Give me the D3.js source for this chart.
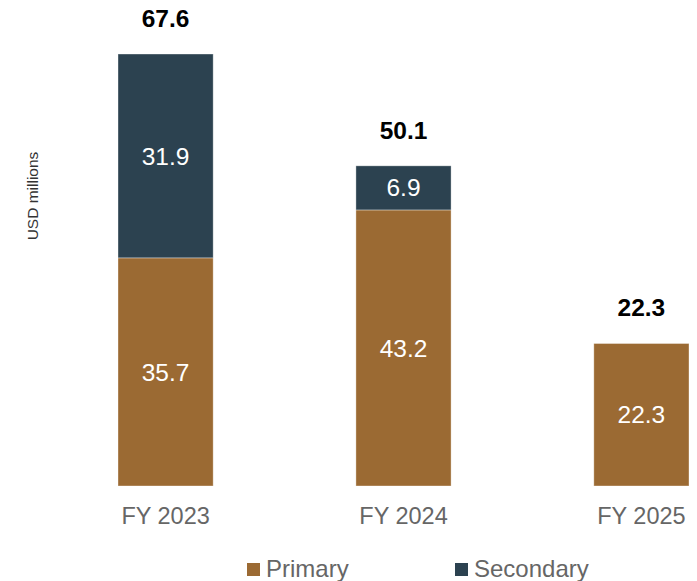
<!DOCTYPE html>
<html>
<head>
<meta charset="utf-8">
<script src="https://cdn.jsdelivr.net/npm/d3@7"></script>
<style>
  body { margin: 0; background: #fff; }
  svg text { font-family: "Liberation Sans", Arial, sans-serif; }
</style>
</head>
<body>
<svg id="chart"></svg>
<script>
const years = ['FY 2023', 'FY 2024', 'FY 2025'];
const primary = [35.7, 43.2, 22.3];
const secondary = [31.9, 6.9, 0];
const totals = [67.6, 50.1, 22.3];
const seriesNames = ['Primary', 'Secondary'];
const seriesColors = ['#9b6a33', '#2c4250'];

const WIDTH = 697;
const HEIGHT = 581;
const BASE = 486;

const svg = d3.select('#chart').attr('width', WIDTH).attr('height', HEIGHT);

const x = d3.scaleBand().domain(years).range([118, 689]).paddingInner(0.6).paddingOuter(0);
const y = d3.scaleLinear().domain([0, 67.6]).range([BASE, 54]);

const rows = years.map((yr, i) => ({ year: yr, Primary: primary[i], Secondary: secondary[i] }));
const stacked = d3.stack().keys(seriesNames)(rows);
const color = d3.scaleOrdinal(seriesNames, seriesColors);

const layers = svg.append('g')
  .selectAll('g')
  .data(stacked)
  .join('g')
  .attr('fill', (d) => color(d.key));

layers.selectAll('rect')
  .data((d) => d.filter((s) => s[1] - s[0] > 0))
  .join('rect')
  .attr('x', (d) => x(d.data.year))
  .attr('width', x.bandwidth())
  .attr('y', (d) => y(d[1]))
  .attr('height', (d) => y(d[0]) - y(d[1]))
  .attr('stroke', 'rgba(255,255,255,0.45)')
  .attr('stroke-width', 0.8);

// values inside segments
layers.selectAll('text')
  .data((d) => d.filter((s) => s[1] - s[0] > 0))
  .join('text')
  .attr('x', (d) => x(d.data.year) + x.bandwidth() / 2)
  .attr('y', (d) => (y(d[0]) + y(d[1])) / 2)
  .attr('dy', '0.35em')
  .attr('text-anchor', 'middle')
  .attr('fill', '#fff')
  .attr('font-size', 24.5)
  .text((d) => (d[1] - d[0]).toFixed(1));

// totals on top
svg.append('g')
  .selectAll('text')
  .data(years)
  .join('text')
  .attr('x', (d) => x(d) + x.bandwidth() / 2)
  .attr('y', (d, i) => y(totals[i]) - 27)
  .attr('text-anchor', 'middle')
  .attr('font-size', 24.5)
  .attr('font-weight', 'bold')
  .attr('fill', '#000')
  .text((d, i) => totals[i].toFixed(1));

// category axis
const xAxis = svg.append('g')
  .attr('transform', `translate(0, ${BASE})`)
  .call(d3.axisBottom(x).tickSize(0));
xAxis.select('.domain').remove();
xAxis.selectAll('text')
  .attr('y', 30)
  .attr('dy', '0.35em')
  .attr('font-size', 23.5)
  .attr('fill', '#666')
  .style('font-family', '"Liberation Sans", Arial, sans-serif');

// y title
svg.append('text')
  .attr('transform', 'translate(38, 196) rotate(-90)')
  .attr('text-anchor', 'middle')
  .attr('font-size', 15.5)
  .attr('fill', '#333')
  .text('USD millions');

// legend
const legendX = [247, 455];
const legend = svg.append('g')
  .selectAll('g')
  .data(seriesNames)
  .join('g')
  .attr('transform', (d, i) => `translate(${legendX[i]}, 569)`);
legend.append('rect')
  .attr('x', 0).attr('y', -6).attr('width', 13).attr('height', 13)
  .attr('fill', (d) => color(d));
legend.append('text')
  .attr('x', 19)
  .attr('dy', '0.35em')
  .attr('font-size', 24)
  .attr('fill', '#666')
  .text((d) => d);
</script>
</body>
</html>
